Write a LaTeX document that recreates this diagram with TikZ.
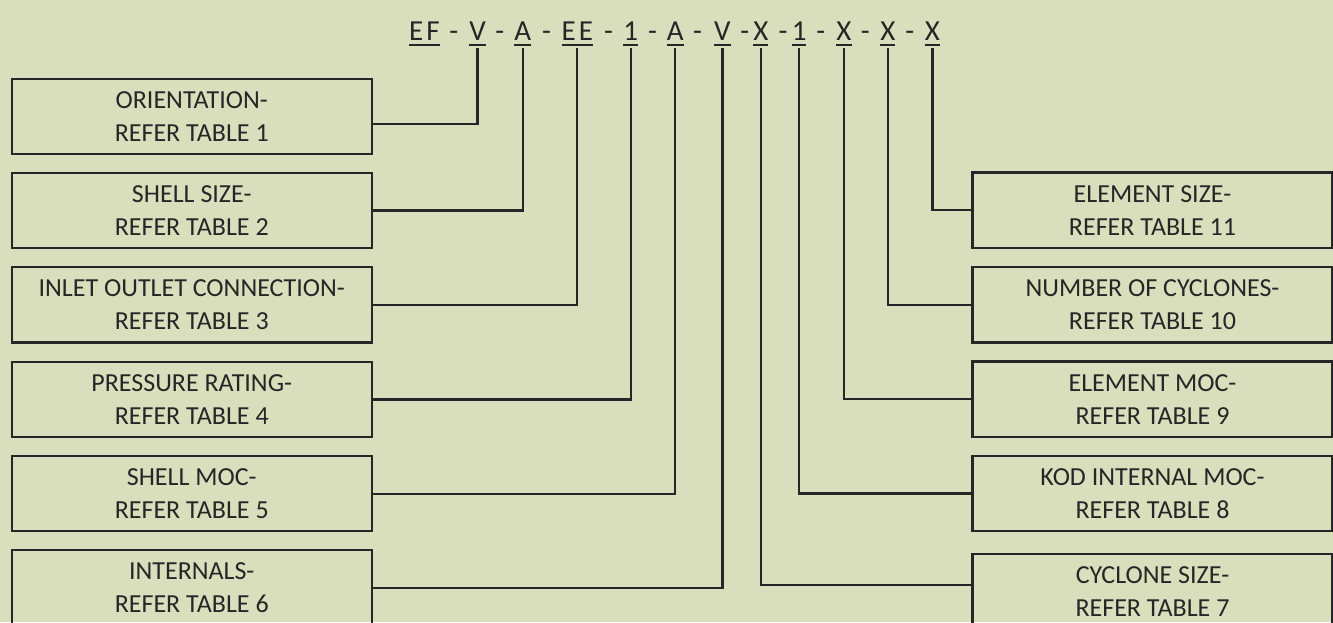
\documentclass[tikz,border=0pt]{standalone}
\usepackage{fontspec}
\setmainfont{Carlito}
\usetikzlibrary{positioning}

\definecolor{panel}{HTML}{D9DFBC}
\definecolor{ink}{HTML}{262626}
% underlined code letter
\newcommand{\ulcode}[1]{\setbox0=\hbox{#1}\rlap{\copy0}\rule[-5.3pt]{\wd0}{1.5pt}}

\begin{document}
\begin{tikzpicture}[
    x=1pt, y=-1pt,
    box/.style={draw=ink, rectangle, line width=2.2pt, minimum width=360pt, minimum height=75.3pt, inner sep=0pt, align=center, text=ink, font=\fontsize{26}{33}\selectfont},
    code/.style={anchor=base, inner sep=0pt, text=ink, font=\fontsize{29}{35}\selectfont},
    wire/.style={draw=ink, line width=2.2pt}
]

\fill[panel] (0,0) rectangle (1333,622);
\useasboundingbox (0,0) rectangle (1333,622);

% Code string
\node[code] (cEF) at (424.4,40.2) {\ulcode{E\kern3pt F}};
\node[code] (cV)  at (477.5,40.2) {\ulcode{V}};
\node[code] (cA)  at (522.8,40.2) {\ulcode{A}};
\node[code] (cEE) at (577.3,40.2) {\ulcode{E\kern3pt E}};
\node[code] (cP)  at (630.7,40.2) {\ulcode{1}};
\node[code] (cM)  at (675.2,40.2) {\ulcode{A}};
\node[code] (cI)  at (722.4,40.2) {\ulcode{V}};
\node[code] (cC)  at (760.8,40.2) {\ulcode{X}};
\node[code] (cK)  at (799.1,40.2) {\ulcode{1}};
\node[code] (cE)  at (844.0,40.2) {\ulcode{X}};
\node[code] (cN)  at (887.8,40.2) {\ulcode{X}};
\node[code] (cS)  at (932.5,40.2) {\ulcode{X}};

% Dashes
\node[code] (d1)  at (453.9,40.2) {-};
\node[code] (d2)  at (499.8,40.2) {-};
\node[code] (d3)  at (546.5,40.2) {-};
\node[code] (d4)  at (608.5,40.2) {-};
\node[code] (d5)  at (652.5,40.2) {-};
\node[code] (d6)  at (697.6,40.2) {-};
\node[code] (d7)  at (744.7,40.2) {-};
\node[code] (d8)  at (783.0,40.2) {-};
\node[code] (d9)  at (820.9,40.2) {-};
\node[code] (d10) at (865.3,40.2) {-};
\node[code] (d11) at (909.7,40.2) {-};

% Left boxes
\node[box] (orient) at (191.75,116.25) {ORIENTATION-\\REFER TABLE 1};
\node[box] (shsize) at (191.75,210.55) {SHELL SIZE-\\REFER TABLE 2};
\node[box] (inlet)  at (191.75,304.85) {INLET OUTLET CONNECTION-\\REFER TABLE 3};
\node[box] (press)  at (191.75,399.45) {PRESSURE RATING-\\REFER TABLE 4};
\node[box] (shmoc)  at (191.75,493.65) {SHELL MOC-\\REFER TABLE 5};
\node[box] (intern) at (191.75,587.95) {INTERNALS-\\REFER TABLE 6};

% Right boxes
\node[box] (elsize) at (1152.5,210.2) {ELEMENT SIZE-\\REFER TABLE 11};
\node[box] (ncyc)   at (1152.5,304.8) {NUMBER OF CYCLONES-\\REFER TABLE 10};
\node[box] (elmoc)  at (1152.5,399.2) {ELEMENT MOC-\\REFER TABLE 9};
\node[box] (kodmoc) at (1152.5,493.5) {KOD INTERNAL MOC-\\REFER TABLE 8};
\node[box] (csize)  at (1152.5,591.8) {CYCLONE SIZE-\\REFER TABLE 7};

% Connectors
\draw[wire] ([yshift=-2.5pt]cV.south)  |- ([yshift=-7.5pt]orient.east);
\draw[wire] ([yshift=-2.5pt]cA.south)  |- (shsize.east);
\draw[wire] ([yshift=-2.5pt]cEE.south) |- (inlet.east);
\draw[wire] ([yshift=-2.5pt]cP.south)  |- (press.east);
\draw[wire] ([yshift=-2.5pt]cM.south)  |- (shmoc.east);
\draw[wire] ([yshift=-2.5pt]cI.south)  |- (intern.east);
\draw[wire] ([yshift=-2.5pt]cC.south)  |- ([yshift=6.5pt]csize.west);
\draw[wire] ([yshift=-2.5pt]cK.south)  |- (kodmoc.west);
\draw[wire] ([yshift=-2.5pt]cE.south)  |- (elmoc.west);
\draw[wire] ([yshift=-2.5pt]cN.south)  |- (ncyc.west);
\draw[wire] ([yshift=-2.5pt]cS.south)  |- (elsize.west);

\end{tikzpicture}
\end{document}
